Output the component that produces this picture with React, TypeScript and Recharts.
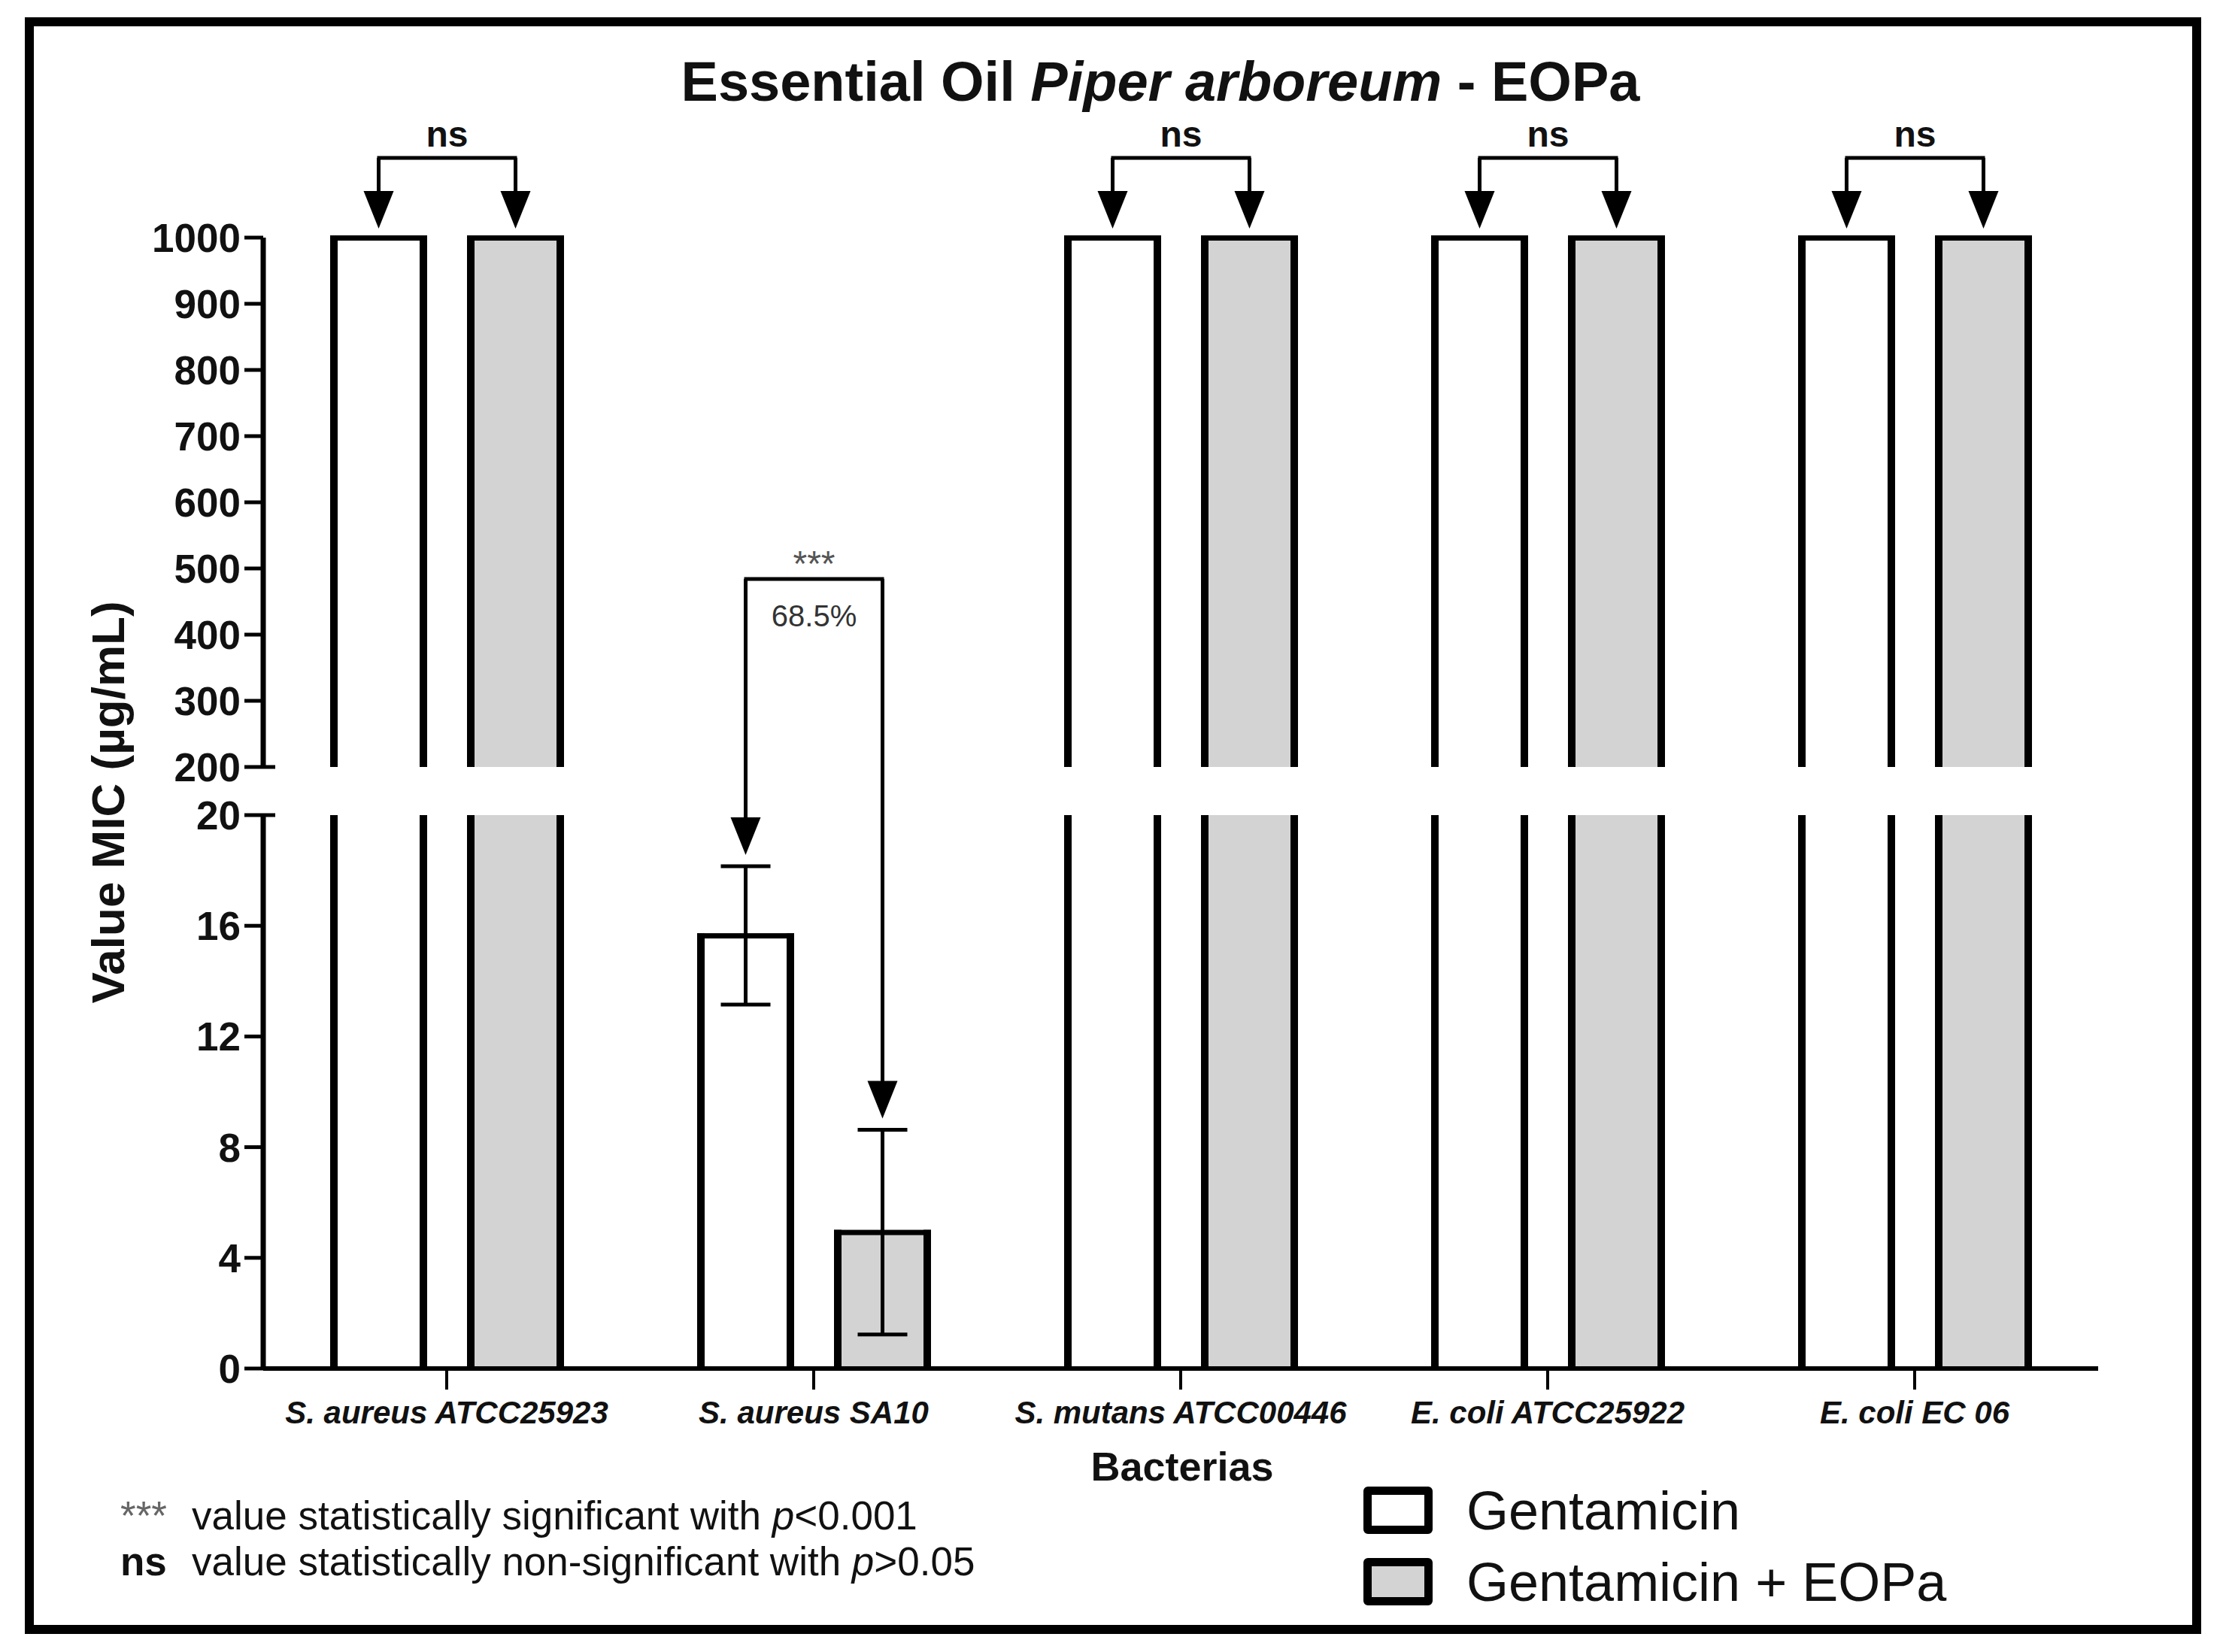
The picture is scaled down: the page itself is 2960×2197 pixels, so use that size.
import { BarChart, Bar, XAxis, YAxis, ErrorBar, Legend } from 'recharts';

const bacteria = ['S. aureus ATCC25923', 'S. aureus SA10', 'S. mutans ATCC00446', 'E. coli ATCC25922', 'E. coli EC 06'];
const gentamicin = [1000, 15.65, 1000, 1000, 1000];
const gentamicinErr = [null, 2.5, null, null, null];
const gentamicinEOPa = [1000, 4.93, 1000, 1000, 1000];
const gentamicinEOPaErr = [null, 3.7, null, null, null];
const significance = ['ns', '***', 'ns', 'ns', 'ns'];
const reduction = [null, '68.5%', null, null, null];
const upperTicks = [200, 300, 400, 500, 600, 700, 800, 900, 1000];
const lowerTicks = [0, 4, 8, 12, 16, 20];
const seriesNames = ['Gentamicin', 'Gentamicin + EOPa'];
const seriesFills = ['#ffffff', '#d3d3d3'];

const FONT = '"Liberation Sans", Arial, Helvetica, sans-serif';
const W = 2960;
const H = 2197;
const HIGH_MIN = upperTicks[0];
const LOW_MAX = lowerTicks[lowerTicks.length - 1];
const BAR = 129;
const GAP = 53;
const SIDE = 10;
const BRACKET_UPPER = 210;
const BRACKET_LOWER = 770;

const rows = bacteria.map((name, i) => ({
  name,
  g: gentamicin[i],
  e: gentamicinEOPa[i],
  gErr: gentamicinErr[i],
  eErr: gentamicinEOPaErr[i],
  sig: significance[i],
  pct: reduction[i],
}));

// broken axis: top panel keeps values >= 200, bottom panel is cut at 20
const upperRows = rows.map((r) => ({
  ...r,
  gUp: r.g >= HIGH_MIN ? r.g : null,
  eUp: r.e >= HIGH_MIN ? r.e : null,
}));
const lowerRows = rows.map((r) => ({
  ...r,
  gLow: Math.min(r.g, LOW_MAX),
  eLow: Math.min(r.e, LOW_MAX),
}));

function barShape(panel: 'upper' | 'lower', s: number) {
  return (props: any) => {
    const { x, y, width, height, payload } = props;
    const raw = s === 0 ? payload.g : payload.e;
    const err = s === 0 ? payload.gErr : payload.eErr;
    if (x == null || y == null || !isFinite(y) || !height) return <g />;
    if (panel === 'upper' && raw < HIGH_MIN) return <g />;
    const broken = panel === 'lower' && raw > LOW_MAX;
    const bottom = y + height;
    const cx = x + width / 2;
    const top = broken ? y : y - 3;
    const showNote = panel === 'upper' ? raw >= HIGH_MIN : raw <= LOW_MAX;
    let note = null;
    if (showNote) {
      const bracketY = panel === 'upper' ? BRACKET_UPPER : BRACKET_LOWER;
      const markTop = err ? y - (err * height) / raw : y;
      const tipY = err ? markTop - 15 : markTop - 12;
      const mid = cx + (width + GAP) / 2;
      note = (
        <g>
          <line x1={cx} x2={cx} y1={bracketY} y2={tipY - 45} stroke="#000" strokeWidth={5} />
          <polygon points={`${cx - 20},${tipY - 50} ${cx + 20},${tipY - 50} ${cx},${tipY}`} fill="#000" />
          {s === 0 && (
            <line x1={cx - 2} x2={cx + width + GAP + 2} y1={bracketY} y2={bracketY} stroke="#000" strokeWidth={5} />
          )}
          {s === 0 && payload.sig === 'ns' && (
            <text x={mid} y={bracketY - 15} textAnchor="middle" fontFamily={FONT} fontSize={48} fontWeight="bold" fill="#111">
              ns
            </text>
          )}
          {s === 0 && payload.sig !== 'ns' && (
            <text x={mid} y={bracketY - 4} textAnchor="middle" fontFamily={FONT} fontSize={48} fill="#555">
              {payload.sig}
            </text>
          )}
          {s === 0 && payload.pct && (
            <text x={mid} y={bracketY + 63} textAnchor="middle" fontFamily={FONT} fontSize={40} fill="#333">
              {payload.pct}
            </text>
          )}
        </g>
      );
    }
    return (
      <g>
        <rect x={x} y={y} width={width} height={height} fill={seriesFills[s]} />
        <rect x={x} y={top} width={SIDE} height={bottom - top} fill="#000" />
        <rect x={x + width - SIDE} y={top} width={SIDE} height={bottom - top} fill="#000" />
        {!broken && <rect x={x} y={y - 3} width={width} height={7} fill="#000" />}
        {note}
      </g>
    );
  };
}

function makeYTick(breakValue: number) {
  return (props: any) => {
    const { x, y, payload } = props;
    const axisX = x + 30;
    return (
      <g>
        <text x={x} y={y} dy="0.36em" textAnchor="end" fontFamily={FONT} fontSize={53} fontWeight="bold" fill="#111">
          {payload.value}
        </text>
        {payload.value === breakValue && (
          <line x1={axisX} x2={axisX + 16} y1={y} y2={y} stroke="#000" strokeWidth={5} />
        )}
      </g>
    );
  };
}

const renderLegend = (props: any) => {
  const items = props.payload || [];
  return (
    <div>
      {items.map((p: any, i: number) => (
        <div key={i} style={{ display: 'flex', alignItems: 'center', height: 95 }}>
          <div
            style={{
              width: 92,
              height: 63,
              boxSizing: 'border-box',
              border: '11px solid #000',
              borderRadius: 6,
              background: p.color,
            }}
          />
          <span style={{ marginLeft: 45, fontSize: 72, fontFamily: FONT, color: '#111', lineHeight: 1 }}>{p.value}</span>
        </div>
      ))}
    </div>
  );
};

const yAxisCommon = {
  width: 200,
  tickSize: 25,
  tickMargin: 5,
  interval: 0 as const,
  axisLine: { stroke: '#000', strokeWidth: 7 },
  tickLine: { stroke: '#000', strokeWidth: 5 },
};

export default function App() {
  return (
    <div style={{ position: 'absolute', left: 0, top: 0, width: W, height: H, background: '#fff' }}>
      <div
        style={{
          position: 'absolute',
          left: 33,
          top: 23,
          width: 2894,
          height: 2150,
          boxSizing: 'border-box',
          border: '12px solid #000',
        }}
      />
      <svg width={W} height={H} style={{ position: 'absolute', left: 0, top: 0 }}>
        <text x={1543} y={134} textAnchor="middle" fontFamily={FONT} fontSize={74} fontWeight="bold" fill="#111">
          Essential Oil <tspan fontStyle="italic">Piper arboreum</tspan> - EOPa
        </text>
        <text
          transform="translate(143,1067) rotate(-90)"
          textAnchor="middle"
          dy="0.36em"
          fontFamily={FONT}
          fontSize={62}
          fontWeight="bold"
          fill="#111"
        >
          Value MIC (µg/mL)
        </text>
        <text x={1572} y={1969} textAnchor="middle" fontFamily={FONT} fontSize={54} fontWeight="bold" fill="#111">
          Bacterias
        </text>
        <text x={160} y={2034} fontFamily={FONT} fontSize={53} fill="#111" style={{ whiteSpace: 'pre' }}>
          <tspan fill="#666">***</tspan>
          <tspan x={255}>value statistically significant with </tspan>
          <tspan fontStyle="italic">p</tspan>
          <tspan>{'<0.001'}</tspan>
        </text>
        <text x={160} y={2095} fontFamily={FONT} fontSize={53} fill="#111" style={{ whiteSpace: 'pre' }}>
          <tspan fontWeight="bold">ns</tspan>
          <tspan x={255}>value statistically non-significant with </tspan>
          <tspan fontStyle="italic">p</tspan>
          <tspan>{'>0.05'}</tspan>
        </text>
      </svg>

      <div style={{ position: 'absolute', left: 0, top: 0 }}>
        <BarChart
          width={W}
          height={H}
          data={upperRows}
          margin={{ top: 316, right: 170, bottom: 1177, left: 150 }}
          barSize={BAR}
          barGap={GAP}
        >
          <XAxis dataKey="name" hide />
          <YAxis {...yAxisCommon} domain={[HIGH_MIN, upperTicks[upperTicks.length - 1]]} ticks={upperTicks} tick={makeYTick(HIGH_MIN)} />
          <Bar dataKey="gUp" name={seriesNames[0]} fill={seriesFills[0]} shape={barShape('upper', 0)} isAnimationActive={false} />
          <Bar dataKey="eUp" name={seriesNames[1]} fill={seriesFills[1]} shape={barShape('upper', 1)} isAnimationActive={false} />
        </BarChart>
      </div>

      <div style={{ position: 'absolute', left: 0, top: 0 }}>
        <BarChart
          width={W}
          height={H}
          data={lowerRows}
          margin={{ top: 1084, right: 170, bottom: 277, left: 150 }}
          barSize={BAR}
          barGap={GAP}
        >
          <XAxis
            dataKey="name"
            interval={0}
            height={100}
            tickSize={28}
            tickMargin={15}
            axisLine={{ stroke: '#000', strokeWidth: 6 }}
            tickLine={{ stroke: '#000', strokeWidth: 4 }}
            tick={{ fontSize: 42, fontWeight: 'bold', fontStyle: 'italic', fill: '#111', fontFamily: FONT }}
          />
          <YAxis {...yAxisCommon} domain={[0, LOW_MAX]} ticks={lowerTicks} tick={makeYTick(LOW_MAX)} />
          <Legend
            layout="vertical"
            align="center"
            verticalAlign="middle"
            content={renderLegend}
            wrapperStyle={{ left: 1813, top: 1961, width: 900, height: 190 }}
          />
          <Bar dataKey="gLow" name={seriesNames[0]} fill={seriesFills[0]} shape={barShape('lower', 0)} isAnimationActive={false}>
            <ErrorBar dataKey="gErr" direction="y" width={33} stroke="#000" strokeWidth={5} isAnimationActive={false} />
          </Bar>
          <Bar dataKey="eLow" name={seriesNames[1]} fill={seriesFills[1]} shape={barShape('lower', 1)} isAnimationActive={false}>
            <ErrorBar dataKey="eErr" direction="y" width={33} stroke="#000" strokeWidth={5} isAnimationActive={false} />
          </Bar>
        </BarChart>
      </div>
    </div>
  );
}
